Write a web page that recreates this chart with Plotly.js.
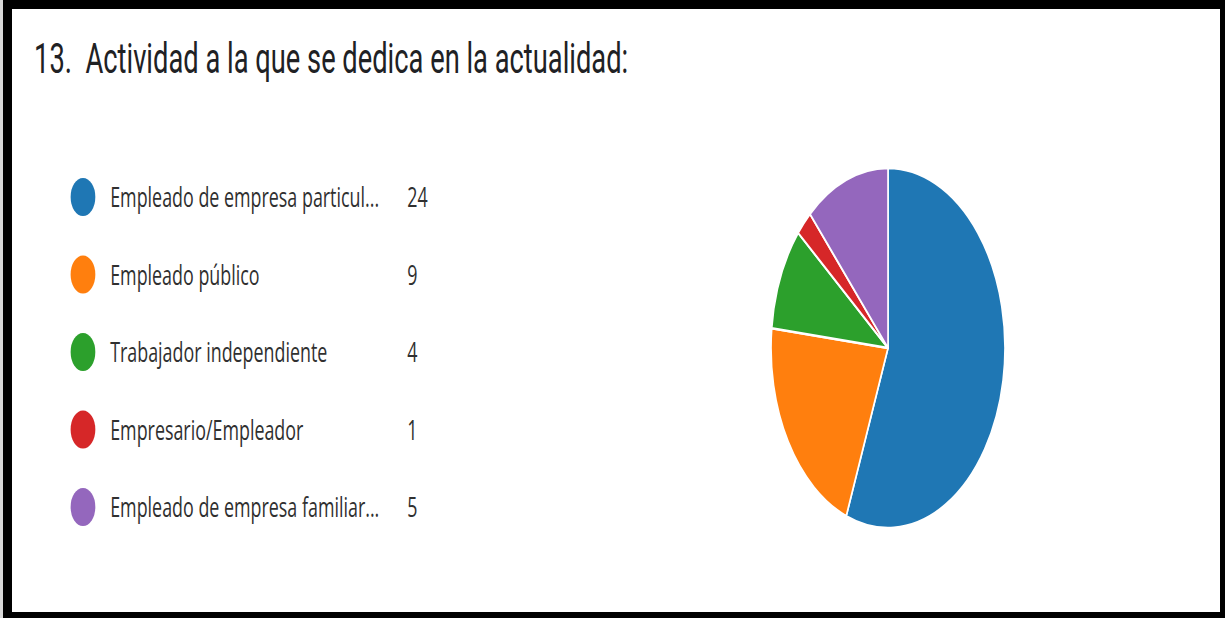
<!DOCTYPE html>
<html><head><meta charset="utf-8">
<script src="https://cdn.plot.ly/plotly-3.0.1.min.js"></script>
<style>
html,body{margin:0;padding:0;background:#000;width:1225px;height:618px;overflow:hidden}
#strip{position:absolute;left:0;top:0;width:3px;height:618px;background:#d8d8d8}
#frame{position:absolute;left:12px;top:9px;width:1208px;height:603px;background:#fff;overflow:hidden}
#chart{width:1858px;height:603px;transform:scaleX(0.65);transform-origin:0 0}
</style></head><body>
<div id="strip"></div>
<div id="frame"><div id="chart"></div></div>
<script>
const titleText = "13.\u00a0 Actividad a la que se dedica en la actualidad:";
const categories = ["Empleado de empresa particul...", "Empleado público", "Trabajador independiente", "Empresario/Empleador", "Empleado de empresa familiar..."];
const counts = [24, 9, 4, 1, 5];
const colors = ["#1f77b4", "#ff7f0e", "#2ca02c", "#d62728", "#9467bd"];

const TITLE_FONT = "Roboto, Open Sans, sans-serif";
const FONT = "Open Sans, Noto Sans, sans-serif";

const pie = {
  type: "pie",
  labels: categories,
  values: counts,
  marker: {colors: colors, line: {color: "#ffffff", width: 2.5}},
  sort: false,
  direction: "clockwise",
  rotation: 0,
  textinfo: "none",
  hoverinfo: "label+value+percent",
  showlegend: false,
  domain: {x: [0.6285, 0.8222], y: [0.1393, 0.7363]}
};

const legendDots = {
  type: "scatter",
  mode: "markers",
  x: categories.map(() => 0),
  y: categories,
  marker: {color: colors, size: 38, symbol: "circle", line: {width: 0}},
  hoverinfo: "skip",
  showlegend: false,
  cliponaxis: false,
  xaxis: "x", yaxis: "y"
};

const annotations = [];
categories.forEach((c, i) => {
  annotations.push({
    x: 0.0805, y: c, xref: "x", yref: "y", text: c, showarrow: false,
    xanchor: "left", yanchor: "middle",
    font: {family: FONT, size: 27.5, color: "#303030"}
  });
  annotations.push({
    x: 1, y: c, xref: "x", yref: "y", text: String(counts[i]), showarrow: false,
    xanchor: "left", yanchor: "middle",
    font: {family: FONT, size: 27.5, color: "#303030"}
  });
});

const layout = {
  width: 1858, height: 603,
  margin: {l: 0, r: 0, t: 0, b: 0},
  paper_bgcolor: "#ffffff", plot_bgcolor: "rgba(0,0,0,0)",
  title: {
    text: titleText, xref: "container", yref: "container",
    x: 34/1858, xanchor: "left", y: 1 - 49/603, yanchor: "middle",
    font: {family: TITLE_FONT, size: 42, color: "#202124"}
  },
  xaxis: {domain: [0.05877, 0.3262], range: [0, 1], visible: false, fixedrange: true},
  yaxis: {domain: [0.1099, 0.7525], type: "category", range: [4.5, -0.5], visible: false, fixedrange: true},
  annotations: annotations,
  showlegend: false
};

Plotly.newPlot("chart", [pie, legendDots], layout, {displayModeBar: false, staticPlot: true});
</script>
</body></html>
